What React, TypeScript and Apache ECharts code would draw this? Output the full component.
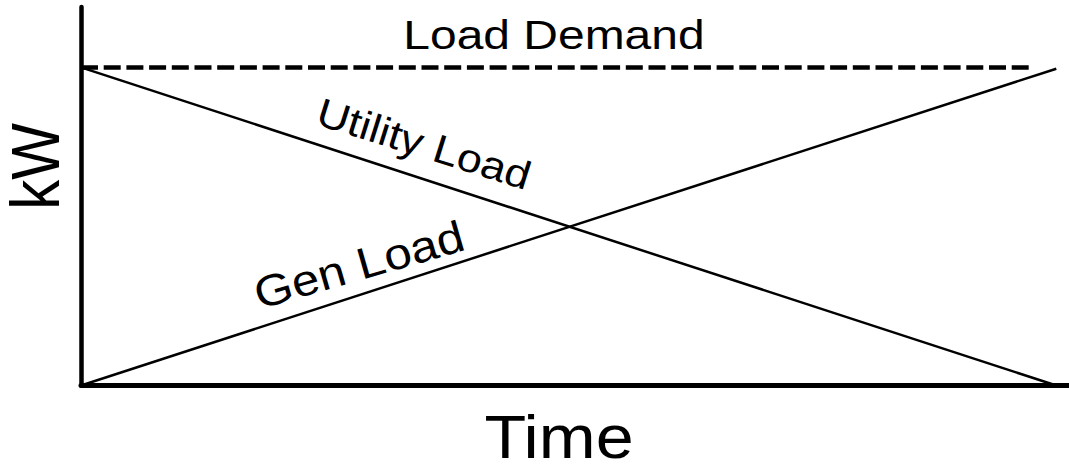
import React, { useEffect, useRef } from "react";
import * as echarts from "echarts";

// Data (time as % of transfer, load as % of demand)
const timePoints = [0, 100];
const utilityLoad = [100, 0];
const genLoad = [0, 99.6];
const demandTime = [0, 97.6];
const demandLoad = [100, 100];

const xAxisTitle = "Time";
const yAxisTitle = "kW";
const demandLabel = "Load Demand";
const utilityLabel = "Utility Load";
const genLabel = "Gen Load";

const FONT = "'Liberation Sans', Arial, Helvetica, sans-serif";

export default function App() {
  const ref = useRef<HTMLDivElement>(null);
  useEffect(() => {
    if (!ref.current) return;
    const chart = echarts.init(ref.current, null, { renderer: "svg" });
    const pairs = (xs: number[], ys: number[]) => xs.map((x, i) => [x, ys[i]]);
    chart.setOption({
      animation: false,
      backgroundColor: "#ffffff",
      grid: { left: 81, right: 0, top: 7, bottom: 80.5, containLabel: false },
      xAxis: {
        type: "value",
        min: 0,
        max: 101.3,
        axisLine: { show: true, lineStyle: { color: "#000", width: 5 } },
        axisTick: { show: false },
        axisLabel: { show: false },
        splitLine: { show: false },
      },
      yAxis: {
        type: "value",
        min: 0,
        max: 119,
        axisLine: { show: true, lineStyle: { color: "#000", width: 4.5 } },
        axisTick: { show: false },
        axisLabel: { show: false },
        splitLine: { show: false },
      },
      series: [
        {
          name: demandLabel,
          type: "line",
          data: pairs(demandTime, demandLoad),
          showSymbol: false,
          symbol: "none",
          lineStyle: { color: "#000", width: 4.5, type: [17, 5.7] },
        },
        {
          name: utilityLabel,
          type: "line",
          data: pairs(timePoints, utilityLoad),
          showSymbol: false,
          symbol: "none",
          lineStyle: { color: "#000", width: 2.5 },
        },
        {
          name: genLabel,
          type: "line",
          data: pairs(timePoints, genLoad),
          showSymbol: false,
          symbol: "none",
          lineStyle: { color: "#000", width: 2.5 },
        },
      ],
      graphic: [
        {
          type: "text",
          x: 554,
          y: 34.5,
          scaleX: 1.17,
          style: {
            text: demandLabel,
            font: `41px ${FONT}`,
            fill: "#000",
            align: "center",
            verticalAlign: "middle",
          },
        },
        {
          type: "text",
          x: 559,
          y: 436.5,
          scaleX: 1.12,
          style: {
            text: xAxisTitle,
            font: `61px ${FONT}`,
            fill: "#000",
            align: "center",
            verticalAlign: "middle",
          },
        },
        {
          type: "text",
          x: 35,
          y: 166.5,
          rotation: Math.PI / 2,
          scaleY: 1.15,
          style: {
            text: yAxisTitle,
            font: `60px ${FONT}`,
            fill: "#000",
            align: "center",
            verticalAlign: "middle",
          },
        },
        {
          type: "text",
          x: 424,
          y: 144,
          rotation: -0.304,
          scaleX: 1.12,
          style: {
            text: utilityLabel,
            font: `40px ${FONT}`,
            fill: "#000",
            align: "center",
            verticalAlign: "middle",
          },
        },
        {
          type: "text",
          x: 359,
          y: 265,
          rotation: 0.28,
          scaleX: 1.12,
          style: {
            text: genLabel,
            font: `44px ${FONT}`,
            fill: "#000",
            align: "center",
            verticalAlign: "middle",
          },
        },
      ],
    });
    return () => chart.dispose();
  }, []);
  return (
    <div
      ref={ref}
      style={{ position: "fixed", left: 0, top: 0, width: 1069, height: 466, background: "#fff" }}
    />
  );
}
